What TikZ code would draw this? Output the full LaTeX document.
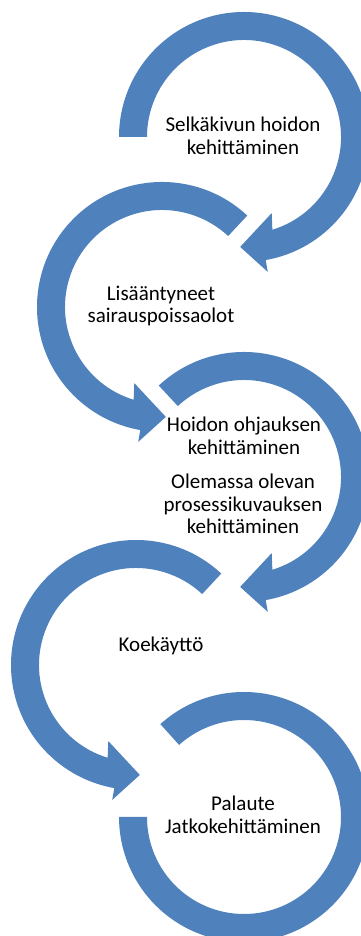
\documentclass[tikz,border=0pt]{standalone}
\usepackage{fontspec}
\setmainfont{Carlito}
\usepackage{tikz}

\definecolor{arrowblue}{HTML}{4F81BD}
\tikzset{
	circarrow/.style={fill=arrowblue, draw=none},
	steptext/.style={align=center, text=black, font=\fontsize{21}{22.5}\selectfont}
}

\begin{document}
\begin{tikzpicture}[x=1pt, y=1pt]
	\useasboundingbox (0,0) rectangle (361,936);
	\clip (0,0) rectangle (361,936);
	% centre / start / outer end / inner end / outer barb / inner barb / tip
	\foreach \cx/\cy/\sa/\oe/\ie/\ob/\ib/\ta in {244/799/180/-80/-73/-80/-70/-92, 162/629/47/260/253/260/250/272, 244/459/133/-80/-73/-80/-70/-92, 136/271/47/260/253/260/250/272}
		\fill[circarrow, shift={(\cx,\cy)}] (\sa:125) arc[start angle=\sa, end angle=\oe, radius=125] -- (\ob:137) -- (\ta:110) -- (\ib:81) -- (\ie:97) arc[start angle=\ie, end angle=\sa, radius=97] -- cycle;
	\fill[circarrow, shift={(244,119)}] (132:125) arc[start angle=132, end angle=-180, radius=125] -- (-180:97) arc[start angle=-180, end angle=132, radius=97] -- cycle;

	\node[steptext] (selka) at (243,800) {Selkäkivun hoidon\\kehittäminen};
	\node[steptext] (poissa) at (161,630) {Lisääntyneet\\sairauspoissaolot};
	\node[steptext] (ohjaus) at (244,500) {Hoidon ohjauksen\\kehittäminen};
	\node[steptext] (prosessi) at (243,432) {Olemassa olevan\\prosessikuvauksen\\kehittäminen};
	\node[steptext] (koe) at (161,290) {Koekäyttö};
	\node[steptext] (palaute) at (243,121) {Palaute\\Jatkokehittäminen};
\end{tikzpicture}
\end{document}
